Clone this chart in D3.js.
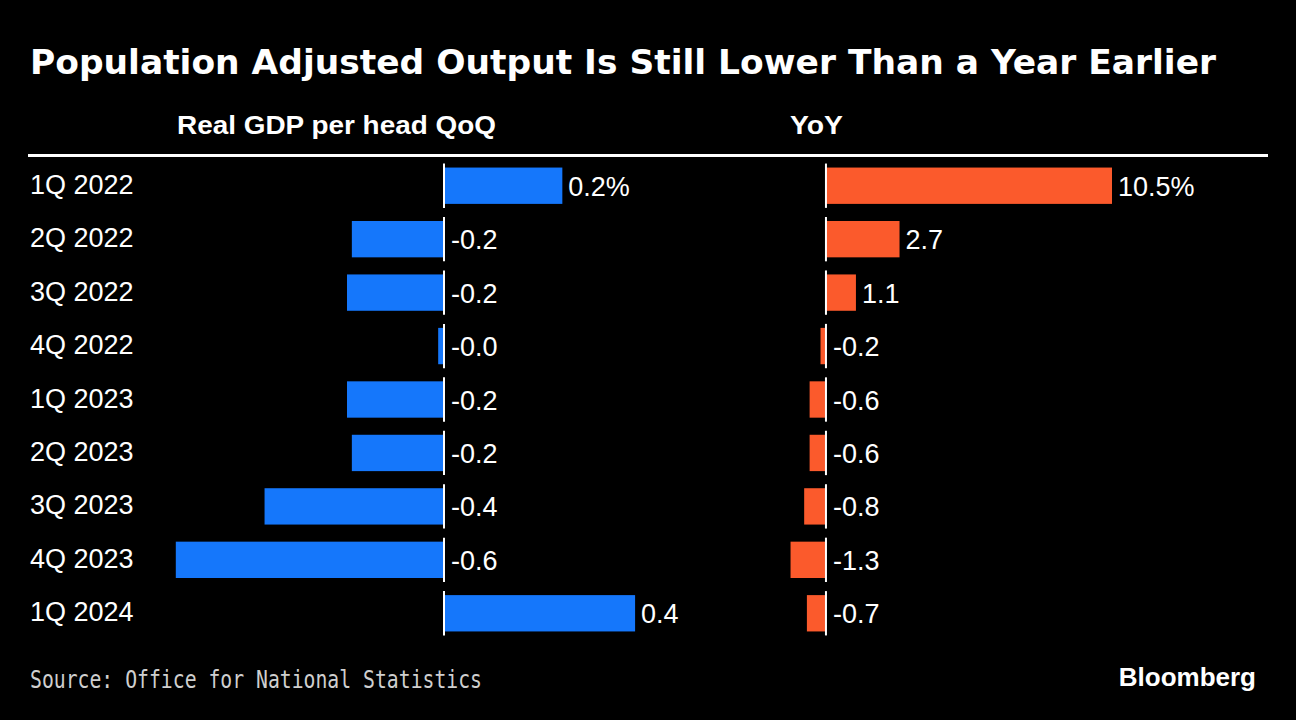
<!DOCTYPE html>
<html>
<head>
<meta charset="utf-8">
<script src="https://cdn.jsdelivr.net/npm/d3@7"></script>
<style>
  html, body { margin: 0; padding: 0; background: #000; }
  svg { display: block; }
</style>
</head>
<body>
<script>
// data
var quarters = ["1Q 2022", "2Q 2022", "3Q 2022", "4Q 2022", "1Q 2023", "2Q 2023", "3Q 2023", "4Q 2023", "1Q 2024"];
var qoq = [0.244, -0.19, -0.2, -0.012, -0.2, -0.19, -0.37, -0.553, 0.394];
var yoy = [10.5, 2.7, 1.1, -0.2, -0.6, -0.6, -0.8, -1.3, -0.7];

var width = 1296,
    height = 720;

var svg = d3.select("body").append("svg")
    .attr("width", width)
    .attr("height", height)
    .style("background", "#000");

// toFixed keeps the "-0.0" the chart shows
var fmt = function(v, i) {
    var s = v.toFixed(1);
    return i === 0 ? s + "%" : s;
};

// title
svg.append("text")
    .attr("x", 30)
    .attr("y", 74)
    .attr("textLength", 1186)
    .attr("lengthAdjust", "spacingAndGlyphs")
    .style("font-family", "'DejaVu Sans', sans-serif")
    .style("font-weight", "bold")
    .style("font-size", "33px")
    .style("fill", "#fff")
    .text("Population Adjusted Output Is Still Lower Than a Year Earlier");

// column headers
svg.append("text")
    .attr("x", 177)
    .attr("y", 134)
    .attr("textLength", 319)
    .attr("lengthAdjust", "spacingAndGlyphs")
    .style("font-family", "'Liberation Sans Narrow', 'Liberation Sans', sans-serif")
    .style("font-weight", "bold")
    .style("font-size", "26px")
    .style("fill", "#fff")
    .text("Real GDP per head QoQ");

svg.append("text")
    .attr("x", 790)
    .attr("y", 134)
    .attr("textLength", 53)
    .attr("lengthAdjust", "spacingAndGlyphs")
    .style("font-family", "'Liberation Sans Narrow', 'Liberation Sans', sans-serif")
    .style("font-weight", "bold")
    .style("font-size", "26px")
    .style("fill", "#fff")
    .text("YoY");

svg.append("line")
    .attr("x1", 28).attr("x2", 1268)
    .attr("y1", 155.5).attr("y2", 155.5)
    .style("stroke", "#fff")
    .style("stroke-width", 3);

// scales
var y = d3.scaleBand()
    .domain(quarters)
    .range([159, 640])
    .paddingInner(0.32)
    .paddingOuter(0.16);

var xL = d3.scaleLinear().domain([-0.6, 0.4]).range([444 - 291, 444 + 194]);
var xR = d3.scaleLinear().domain([-1.5, 10.5]).range([826 - 40.9, 1112]);

// row labels
svg.selectAll(".rowlab")
    .data(quarters)
    .enter()
    .append("text")
    .attr("class", "rowlab")
    .attr("x", 30)
    .attr("y", function(d) { return y(d) + y.bandwidth() / 2 + 8; })
    .style("font-family", "'Liberation Sans', Arial, sans-serif")
    .style("font-size", "27px")
    .style("fill", "#fff")
    .text(function(d) { return d; });

function panel(vals, x, colour, cls) {
    var g = svg.append("g").attr("class", cls);

    g.selectAll("rect")
        .data(vals)
        .enter()
        .append("rect")
        .attr("x", function(d) { return Math.min(x(d), x(0)); })
        .attr("y", function(d, i) { return y(quarters[i]); })
        .attr("width", function(d) { return Math.abs(x(d) - x(0)); })
        .attr("height", y.bandwidth())
        .style("fill", colour);

    g.selectAll("line")
        .data(vals)
        .enter()
        .append("line")
        .attr("x1", x(0)).attr("x2", x(0))
        .attr("y1", function(d, i) { return y(quarters[i]) - 4; })
        .attr("y2", function(d, i) { return y(quarters[i]) + y.bandwidth() + 4; })
        .style("stroke", "#fff")
        .style("stroke-width", 2);

    g.selectAll("text")
        .data(vals)
        .enter()
        .append("text")
        .attr("x", function(d) { return d > 0 ? x(d) + 6 : x(0) + 7; })
        .attr("y", function(d, i) { return y(quarters[i]) + y.bandwidth() / 2 + 10; })
        .style("font-family", "'Liberation Sans', Arial, sans-serif")
        .style("font-size", "27px")
        .style("fill", "#fff")
        .text(function(d, i) { return fmt(d, i); });
}

panel(qoq, xL, "#1577fb", "qoq");
panel(yoy, xR, "#fb5a2c", "yoy");

// footer
svg.append("text")
    .attr("x", 30)
    .attr("y", 688)
    .attr("textLength", 452)
    .attr("lengthAdjust", "spacingAndGlyphs")
    .style("font-family", "'DejaVu Sans Mono', monospace")
    .style("font-size", "25px")
    .style("fill", "#cfcfcf")
    .text("Source: Office for National Statistics");

svg.append("text")
    .attr("x", 1256)
    .attr("y", 686)
    .attr("text-anchor", "end")
    .style("font-family", "'Liberation Sans', Arial, sans-serif")
    .style("font-weight", "bold")
    .style("font-size", "26px")
    .style("fill", "#fff")
    .text("Bloomberg");
</script>
</body>
</html>
